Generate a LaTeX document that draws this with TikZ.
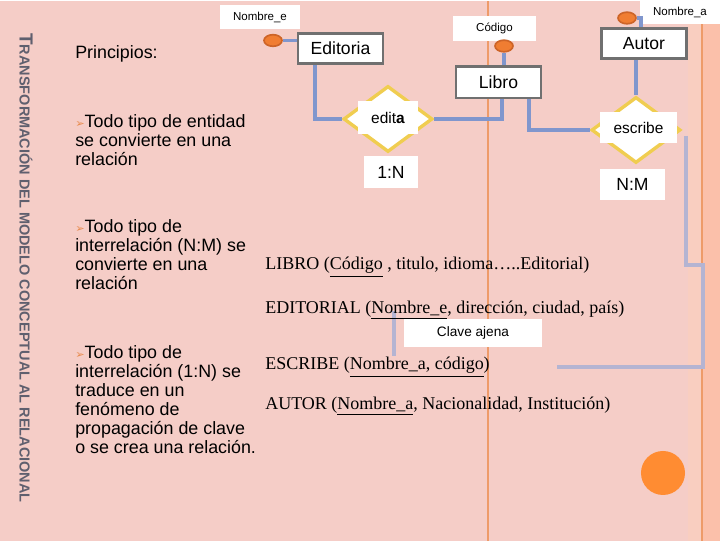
\documentclass[tikz,border=0pt]{standalone}
\usepackage{fontspec}
\setmainfont{Liberation Serif}
\setsansfont{Liberation Sans}
\newfontfamily\dejavu{DejaVu Sans}
\usepackage{xcolor}
\usetikzlibrary{shapes.geometric}

\definecolor{fondo}{RGB}{245,205,199}
\definecolor{franja}{RGB}{249,206,192}
\definecolor{melocoton}{RGB}{251,192,170}
\definecolor{naranja}{RGB}{238,155,105}
\definecolor{gris}{RGB}{112,112,112}
\definecolor{azul}{RGB}{128,150,205}
\definecolor{lila}{RGB}{180,180,210}
\definecolor{amarillo}{RGB}{240,205,80}
\definecolor{atrib}{RGB}{240,125,50}
\definecolor{atribborde}{RGB}{205,100,40}
\definecolor{titulo}{RGB}{95,95,110}
\definecolor{circulo}{RGB}{255,140,50}
\definecolor{vineta}{RGB}{232,140,80}

\newcommand{\vin}{{\dejavu\color{vineta}\fontsize{8}{8}\selectfont ➢}}

\begin{document}
\begin{tikzpicture}[x=0.025cm, y=-0.025cm,
    every node/.style={font=\sffamily, inner sep=0pt},
    entidad/.style={draw=gris, line width=2pt, fill=white, minimum width=2.125cm, minimum height=0.75cm, font=\sffamily\fontsize{12.5}{14}\selectfont},
    relacion/.style={diamond, draw=amarillo, line width=2.4pt, fill=white, minimum width=2.225cm, minimum height=1.65cm},
    rotulo/.style={fill=white, font=\sffamily\fontsize{11}{12}\selectfont},
    cardinal/.style={fill=white, minimum height=0.78cm, font=\sffamily\fontsize{12.5}{14}\selectfont},
    nombre/.style={fill=white, font=\sffamily\fontsize{8.2}{9}\selectfont},
    atributo/.style={ellipse, draw=atribborde, line width=1.2pt, fill=atrib, minimum width=0.45cm, minimum height=0.29cm},
    enlace/.style={draw=azul, line width=2.8pt},
    ajena/.style={draw=lila, line width=2.3pt},
    texto/.style={font=\sffamily\fontsize{12.7}{13.6}\selectfont, align=left, anchor=base west},
    tabla/.style={font=\rmfamily\fontsize{12.8}{15}\selectfont, anchor=base west}]

    % fondo de la diapositiva
    \fill[fondo] (0,0) rectangle (720,540);
    \fill[franja] (688,0) rectangle (702,540);
    \fill[melocoton] (702,0) rectangle (720,540);
    \draw[naranja, line width=0.8pt] (702,0) -- (702,540);
    \draw[naranja, line width=1.4pt] (488,0) -- (488,540);
    \fill[circulo] (663,472) circle (0.55cm);

    \node[rotate=-90, anchor=west, text=titulo, font=\sffamily\bfseries] (tit) at (26,32)
      {\fontsize{13.5}{13}\selectfont T\fontsize{10.3}{10}\selectfont RANSFORMACIÓN DEL MODELO CONCEPTUAL AL RELACIONAL};

    % la base del nodo es la de su ultima linea
    \node[texto] (princ) at (75,58) {Principios:};
    \node[texto] (p1) at (75,165) {\vin Todo tipo de entidad\\se convierte en  una\\relación};
    \node[texto] (p2) at (75,288.6) {\vin Todo tipo de\\interrelación (N:M) se\\convierte en una\\relación};
    \node[texto] (p3) at (75,453) {\vin Todo tipo de\\interrelación (1:N) se\\traduce en un\\fenómeno de\\propagación de clave\\o se crea una relación.};

    % claves ajenas
    \coordinate (ka1) at (686,135);
    \coordinate (ka2) at (557,366);
    \coordinate (kb1) at (394,310);
    \coordinate (kb2) at (394,355);
    \draw[ajena] (ka1) -- (686,264) -- (703,264) -- (703,366) -- (ka2);
    \draw[ajena] (kb1) -- (kb2);

    \node[tabla] (tlibro) at (265,269) {LIBRO (\underline{Código} , titulo, idioma…..Editorial)};
    \node[tabla] (teditorial) at (265,313) {EDITORIAL (\underline{Nombre\_e}, dirección, ciudad, país)};
    \node[tabla] (tescribe) at (265,369) {ESCRIBE (\underline{Nombre\_a, código})};
    \node[tabla] (tautor) at (265,409) {AUTOR (\underline{Nombre\_a}, Nacionalidad, Institución)};
    \node[nombre, minimum width=3.45cm, minimum height=0.7cm, font=\sffamily\fontsize{9.7}{10}\selectfont] (clave) at (473,332) {Clave ajena};

    % modelo E-R
    \node[entidad] (editoria) at (340.5,47.5) {Editoria};
    \node[entidad, minimum height=0.78cm] (libro) at (498.5,81.5) {Libro};
    \node[entidad] (autor) at (644,42.5) {Autor};
    \node[relacion] (edita) at (388,118) {};
    \node[relacion] (escribe) at (636,129) {};
    \node[rotulo, minimum width=1.5cm, minimum height=0.825cm] (ledita) at (388,117) {edit\textbf{a}};
    \node[rotulo, minimum width=1.925cm, minimum height=0.775cm] (lescribe) at (638.5,126.5) {escribe};
    \node[cardinal, minimum width=1.35cm] (c1n) at (391,171) {1:N};
    \node[cardinal, minimum width=1.625cm] (cnm) at (632.5,183.5) {N:M};

    \node[nombre, minimum width=2cm, minimum height=0.6cm] (nome) at (260,16) {Nombre\_e};
    \node[nombre, minimum width=2.075cm, minimum height=0.625cm] (ncod) at (494.5,27.5) {Código};
    \node[nombre, minimum width=2cm, minimum height=0.575cm] (noma) at (680,11.5) {Nombre\_a};
    \node[atributo] (ae) at (273,39.5) {};
    \node[atributo] (ac) at (504,45) {};
    \node[atributo] (aa) at (627,17) {};

    \draw[enlace] (ae.east) -- (ae.east -| editoria.west);
    \draw[enlace] (ac.south) -- (ac.south |- libro.north);
    \draw[enlace] (aa.east) -| ([shift={(-3,0)}]autor.north);
    \draw[enlace] ([shift={(-25.5,0)}]editoria.south) |- (edita.west);
    \draw[enlace] (edita.east) -| ([shift={(3.5,0)}]libro.south);
    \draw[enlace] ([shift={(30.5,0)}]libro.south) |- (escribe.west);
    \draw[enlace] (escribe.north |- autor.south) -- (escribe.north);
  \end{tikzpicture}
\end{document}
